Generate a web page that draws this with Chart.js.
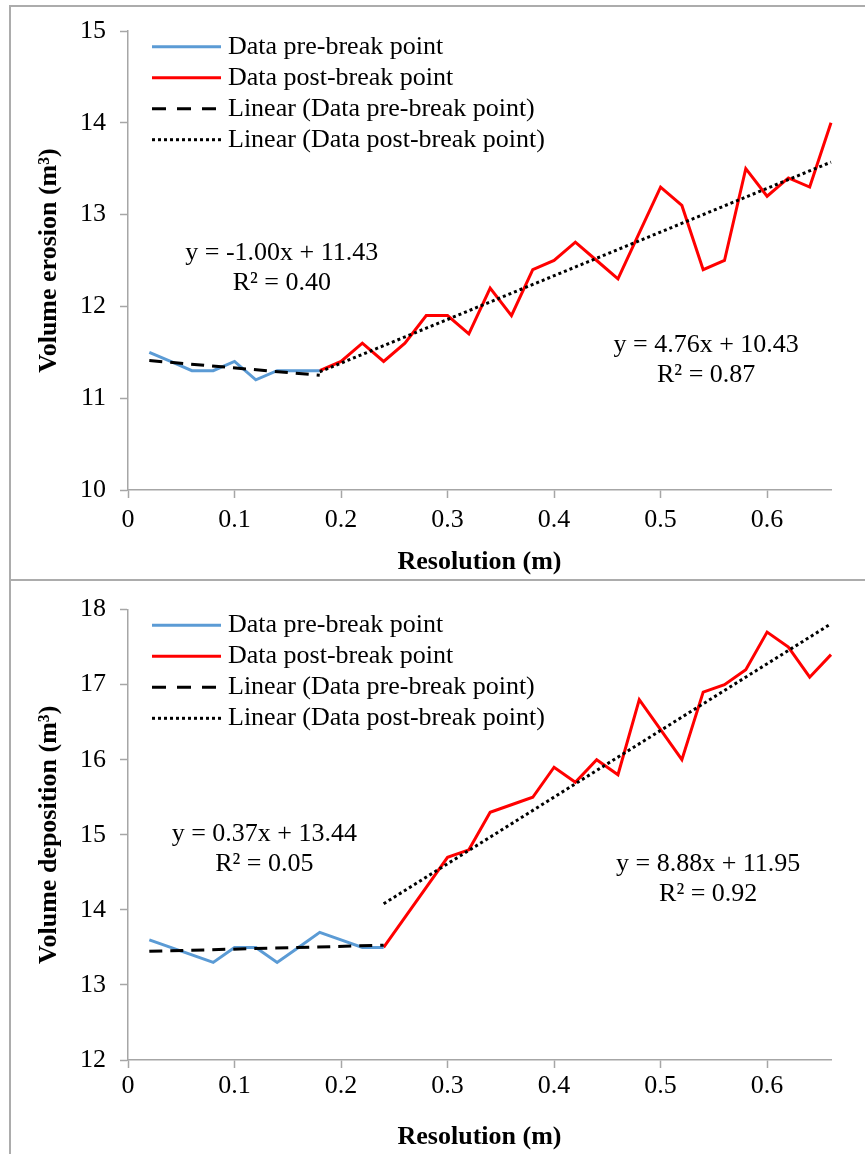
<!DOCTYPE html>
<html><head><meta charset="utf-8">
<script src="https://cdn.jsdelivr.net/npm/chart.js@4/dist/chart.umd.min.js"></script>
<style>
html,body{margin:0;padding:0;background:#fff;}
body{width:865px;height:1154px;position:relative;overflow:hidden;}
.bd{position:absolute;background:#acacac;}
.wrap{position:absolute;left:0;width:865px;}
</style></head><body>
<div class="wrap" style="top:0;height:580px"><canvas id="c1" width="865" height="580"></canvas></div>
<div class="wrap" style="top:580px;height:574px"><canvas id="c2" width="865" height="574"></canvas></div>
<div class="bd" style="left:9px;top:5px;width:2px;height:1149px"></div>
<div class="bd" style="left:9px;top:5px;width:856px;height:2px"></div>
<div class="bd" style="left:9px;top:579px;width:856px;height:2px"></div>
<script>
// ---- data ----
const xTicks = [0, 0.1, 0.2, 0.3, 0.4, 0.5, 0.6];
const seriesNames = ['Data pre-break point', 'Data post-break point',
  'Linear (Data pre-break point)', 'Linear (Data post-break point)'];

const erosionPreX  = [0.02, 0.04, 0.06, 0.08, 0.10, 0.12, 0.14, 0.16, 0.18];
const erosionPreY  = [11.5, 11.4, 11.3, 11.3, 11.4, 11.2, 11.3, 11.3, 11.3];
const erosionPostX = [0.18, 0.20, 0.22, 0.24, 0.26, 0.28, 0.30, 0.32, 0.34, 0.36, 0.38, 0.40, 0.42,
                      0.44, 0.46, 0.48, 0.50, 0.52, 0.54, 0.56, 0.58, 0.60, 0.62, 0.64, 0.66];
const erosionPostY = [11.3, 11.4, 11.6, 11.4, 11.6, 11.9, 11.9, 11.7, 12.2, 11.9, 12.4, 12.5, 12.7,
                      12.5, 12.3, 12.8, 13.3, 13.1, 12.4, 12.5, 13.5, 13.2, 13.4, 13.3, 14.0];
const erosionPreFit  = [-1.00, 11.43];   // slope, intercept
const erosionPostFit = [4.76, 10.43];
const erosionR2      = [0.40, 0.87];

const depositionPreX  = [0.02, 0.04, 0.06, 0.08, 0.10, 0.12, 0.14, 0.16, 0.18, 0.20, 0.22, 0.24];
const depositionPreY  = [13.6, 13.5, 13.4, 13.3, 13.5, 13.5, 13.3, 13.5, 13.7, 13.6, 13.5, 13.5];
const depositionPostX = [0.24, 0.26, 0.28, 0.30, 0.32, 0.34, 0.36, 0.38, 0.40, 0.42, 0.44,
                         0.46, 0.48, 0.50, 0.52, 0.54, 0.56, 0.58, 0.60, 0.62, 0.64, 0.66];
const depositionPostY = [13.5, 13.9, 14.3, 14.7, 14.8, 15.3, 15.4, 15.5, 15.9, 15.7, 16.0,
                         15.8, 16.8, 16.4, 16.0, 16.9, 17.0, 17.2, 17.7, 17.5, 17.1, 17.4];
const depositionPreFit  = [0.37, 13.44];
const depositionPostFit = [8.88, 11.95];
const depositionR2      = [0.05, 0.92];

// ---- helpers ----
const FONT = '"Liberation Serif", "Times New Roman", serif';
Chart.defaults.font.family = FONT;
Chart.defaults.color = '#000';
const AXIS = '#a6a6a6';

const pts = (xs, ys) => xs.map((x, i) => ({x: x, y: ys[i]}));
const fitLine = (xs, fit) => [xs[0], xs[xs.length - 1]].map(x => ({x: x, y: fit[0] * x + fit[1]}));
const eqText = fit => 'y = ' + fit[0].toFixed(2) + 'x + ' + fit[1].toFixed(2);
const r2Text = r => 'R\u00b2 = ' + r.toFixed(2);

const overlay = {
  id: 'overlay',
  afterDatasetsDraw(chart, args, opts) {
    const ctx = chart.ctx, ca = chart.chartArea;
    ctx.save();
    ctx.font = '26px ' + FONT;
    ctx.textBaseline = 'middle';
    chart.data.datasets.forEach((ds, i) => {
      const y = ca.top + opts.legendTop + i * opts.legendGap;
      ctx.beginPath();
      ctx.strokeStyle = ds.borderColor;
      ctx.lineWidth = ds.borderWidth;
      ctx.setLineDash(ds.legendDash || []);
      ctx.moveTo(ca.left + 24, y);
      ctx.lineTo(ca.left + 93, y);
      ctx.stroke();
      ctx.setLineDash([]);
      ctx.fillStyle = '#000';
      ctx.textAlign = 'left';
      ctx.fillText(ds.label, ca.left + 100, y);
    });
    ctx.textAlign = 'center';
    const xs = chart.scales.x, ys = chart.scales.y;
    opts.equations.forEach(e => {
      const px = xs.getPixelForValue(e.x), py = ys.getPixelForValue(e.y);
      e.lines.forEach((t, k) => ctx.fillText(t, px, py + k * opts.eqGap));
    });
    ctx.restore();
  }
};

function makeChart(id, c) {
  const datasets = [
    {label: seriesNames[0], data: pts(c.preX, c.preY), borderColor: '#5b9bd5', borderWidth: 3, order: 2, legendDash: []},
    {label: seriesNames[1], data: pts(c.postX, c.postY), borderColor: '#ff0000', borderWidth: 3, order: 2, legendDash: []},
    {label: seriesNames[2], data: fitLine(c.preX, c.preFit), borderColor: '#000', borderWidth: 3, borderDash: [13, 8], order: 1, legendDash: [14, 11]},
    {label: seriesNames[3], data: fitLine(c.postX, c.postFit), borderColor: '#000', borderWidth: 3, borderDash: [3, 3], order: 1, legendDash: [3, 3]}
  ];
  datasets.forEach(d => { d.pointRadius = 0; d.tension = 0; d.fill = false; d.clip = 6; });
  return new Chart(document.getElementById(id), {
    type: 'line',
    data: {datasets: datasets},
    options: {
      responsive: false, animation: false, devicePixelRatio: 1,
      layout: {padding: {left: 10, right: 34, top: c.padTop, bottom: 0}},
      plugins: {
        legend: {display: false}, tooltip: {enabled: false},
        overlay: {
          legendTop: 15.7, legendGap: 31, eqGap: 30,
          equations: [
            {x: c.eq1[0], y: c.eq1[1], lines: [eqText(c.preFit), r2Text(c.r2[0])]},
            {x: c.eq2[0], y: c.eq2[1], lines: [eqText(c.postFit), r2Text(c.r2[1])]}
          ]
        }
      },
      scales: {
        x: {
          type: 'linear', min: 0, max: 0.66,
          afterBuildTicks(s) { s.ticks = xTicks.map(v => ({value: v})); },
          afterFit(s) { s.height = c.xAxisH; },
          grid: {drawOnChartArea: false, drawTicks: true, tickLength: 8, color: AXIS, tickColor: AXIS, tickWidth: 1.5},
          border: {color: AXIS, width: 1.5},
          ticks: {padding: c.xTickPad, font: {size: 26}, color: '#000', maxRotation: 0, autoSkip: false,
                  callback: v => String(v)},
          title: {display: true, text: 'Resolution (m)', color: '#000',
                  font: {size: 26, weight: 'bold'}, padding: {top: 0, bottom: c.xTitlePad}}
        },
        y: {
          min: c.yMin, max: c.yMax,
          afterFit(s) { s.width = 118; },
          grid: {drawOnChartArea: false, drawTicks: true, tickLength: 8, color: AXIS, tickColor: AXIS, tickWidth: 1.5},
          border: {color: AXIS, width: 1.5},
          ticks: {stepSize: 1, padding: 14, font: {size: 26}, color: '#000'},
          title: {display: true, text: c.yTitle, color: '#000',
                  font: {size: 26, weight: 'bold'}, padding: {top: 24, bottom: 0}}
        }
      }
    },
    plugins: [overlay]
  });
}

makeChart('c1', {
  preX: erosionPreX, preY: erosionPreY, postX: erosionPostX, postY: erosionPostY,
  preFit: erosionPreFit, postFit: erosionPostFit, r2: erosionR2,
  yMin: 10, yMax: 15, yTitle: 'Volume erosion (m\u00b3)',
  padTop: 31, xAxisH: 90, xTickPad: 7, xTitlePad: 2,
  eq1: [0.1444, 12.58], eq2: [0.5428, 11.58]
});
makeChart('c2', {
  preX: depositionPreX, preY: depositionPreY, postX: depositionPostX, postY: depositionPostY,
  preFit: depositionPreFit, postFit: depositionPostFit, r2: depositionR2,
  yMin: 12, yMax: 18, yTitle: 'Volume deposition (m\u00b3)',
  padTop: 27, xAxisH: 94, xTickPad: 3, xTitlePad: 1,
  eq1: [0.128, 15.01], eq2: [0.5447, 14.61]
});
</script>
</body></html>
